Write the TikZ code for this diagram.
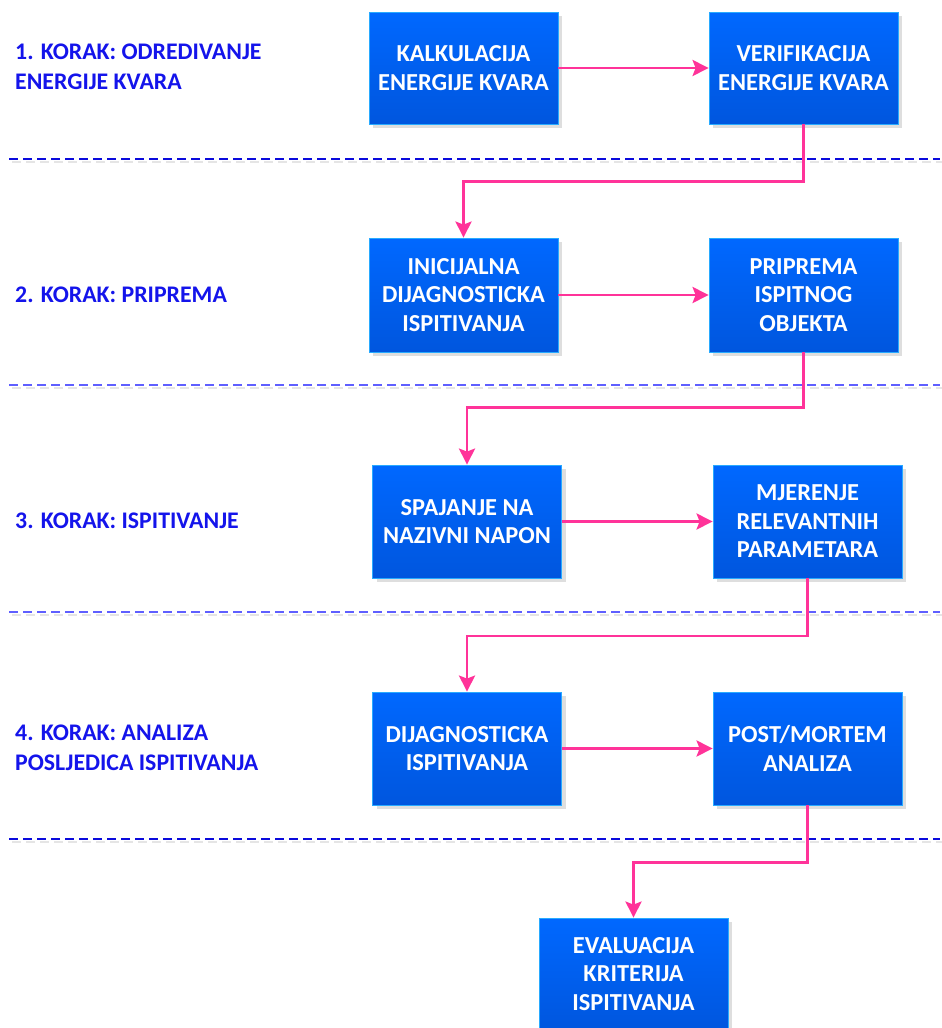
\documentclass[tikz,border=0pt]{standalone}
\usepackage{fontspec}
\setmainfont{Carlito}
\usetikzlibrary{arrows.meta,shadows}
\definecolor{boxtop}{RGB}{0,104,255}
\definecolor{boxbot}{RGB}{0,86,222}
\definecolor{boxedge}{RGB}{40,170,255}
\definecolor{conncol}{RGB}{255,51,153}
\definecolor{labcol}{RGB}{20,20,235}
\definecolor{dashdark}{RGB}{10,10,220}
\definecolor{dashlight}{RGB}{95,95,255}
\tikzset{
  stepbox/.style={draw=boxedge, line width=0.8pt, top color=boxtop, bottom color=boxbot,
    minimum width=189pt, minimum height=112pt, inner sep=0pt, text=white,
    font=\bfseries\fontsize{24.4}{28.5}\selectfont, align=center,
    drop shadow={shadow xshift=4pt, shadow yshift=-4pt, fill=black!13, opacity=1}},
  conn/.style={draw=conncol, line width=2.8pt, -{Stealth[length=16pt,width=16pt,inset=3pt]}},
  steplabel/.style={anchor=west, text=labcol, font=\bfseries\fontsize{23.8}{30}\selectfont, align=left, inner sep=0pt},
  sepline/.style={line width=1.3pt, dash pattern=on 9pt off 5pt},
  sepshadow/.style={draw=black!10, line width=1.3pt, dash pattern=on 9pt off 5pt}
}
\begin{document}
\begin{tikzpicture}[x=1pt,y=-1pt]
\useasboundingbox[fill=white] (0,0) rectangle (942,1028);
% separators
\foreach \yy/\cc [count=\i] in {159/dashdark,385/dashlight,612/dashlight,839/dashdark}{
  \coordinate (s\i a) at (9,\yy);
  \coordinate (s\i b) at (940,\yy);
  \draw[sepshadow] ([shift={(3,3)}]s\i a) -- ([shift={(3,3)}]s\i b);
  \draw[sepline, draw=\cc] (s\i a) -- (s\i b);
}
% labels
\node[steplabel] (L1) at (15,67) {1. KORAK: ODREDIVANJE\\ENERGIJE KVARA};
\node[steplabel] (L2) at (15,295) {2. KORAK: PRIPREMA};
\node[steplabel] (L3) at (15,521) {3. KORAK: ISPITIVANJE};
\node[steplabel] (L4) at (15,747.5) {4. KORAK: ANALIZA\\POSLJEDICA ISPITIVANJA};
% boxes
\node[stepbox] (A1) at (463.5,68) {KALKULACIJA\\ENERGIJE KVARA};
\node[stepbox] (B1) at (803.5,68) {VERIFIKACIJA\\ENERGIJE KVARA};
\node[stepbox, minimum height=114pt] (A2) at (463.5,295) {INICIJALNA\\DIJAGNOSTICKA\\ISPITIVANJA};
\node[stepbox, minimum height=114pt] (B2) at (803.5,295) {PRIPREMA\\ISPITNOG\\OBJEKTA};
\node[stepbox, minimum height=113pt] (A3) at (467,521.5) {SPAJANJE NA\\NAZIVNI NAPON};
\node[stepbox, minimum height=113pt] (B3) at (807.5,521.5) {MJERENJE\\RELEVANTNIH\\PARAMETARA};
\node[stepbox, minimum height=113pt] (A4) at (467,748.5) {DIJAGNOSTICKA\\ISPITIVANJA};
\node[stepbox, minimum height=113pt] (B4) at (807.5,748.5) {POST/MORTEM\\ANALIZA};
\node[stepbox] (F) at (633.5,974) {EVALUACIJA\\KRITERIJA\\ISPITIVANJA};
% connectors
\draw[conn] (A1.east) -- (B1.west);
\draw[conn] (A2.east) -- (B2.west);
\draw[conn] (A3.east) -- (B3.west);
\draw[conn] (A4.east) -- (B4.west);
\draw[conn] (B1.south) -- ++(0,57) -| (A2.north);
\draw[conn] (B2.south) -- ++(0,55) -| (A3.north);
\draw[conn] (B3.south) -- ++(0,57.5) -| (A4.north);
\draw[conn] (B4.south) -- ++(0,57) -| (F.north);
\end{tikzpicture}
\end{document}
